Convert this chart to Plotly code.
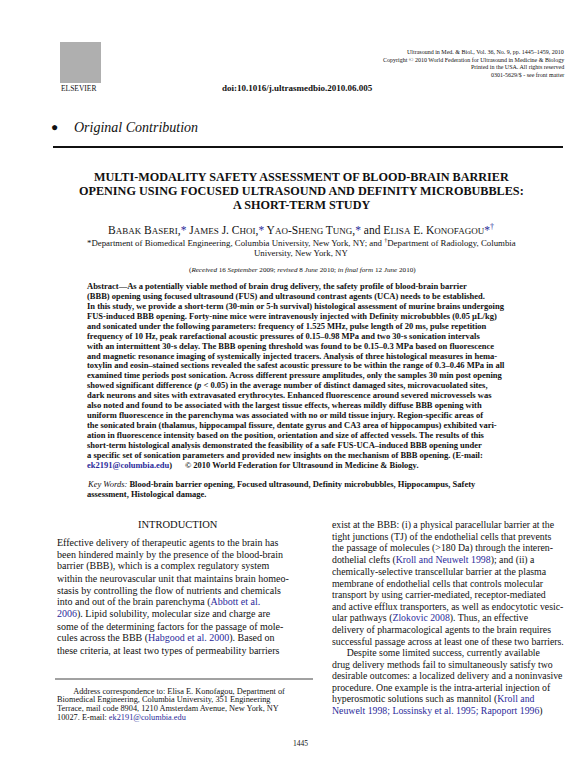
import plotly.graph_objects as go

W, H = 585, 783
SERIF = "Liberation Serif"
LINK = "#2b2b9a"

def link(t):
    return f"<span style='color:{LINK}'>{t}</span>"

def sc(t):
    return f"<span style='font-size:9px'>{t}</span>"

header_lines = [
    "Ultrasound in Med. & Biol., Vol. 36, No. 9, pp. 1445–1459, 2010",
    "Copyright © 2010 World Federation for Ultrasound in Medicine & Biology",
    "Printed in the USA. All rights reserved",
    "0301-5629/$ - see front matter",
]
doi_text = "doi:10.1016/j.ultrasmedbio.2010.06.005"
section_text = "Original Contribution"
title_lines = [
    "MULTI-MODALITY SAFETY ASSESSMENT OF BLOOD-BRAIN BARRIER",
    "OPENING USING FOCUSED ULTRASOUND AND DEFINITY MICROBUBBLES:",
    "A SHORT-TERM STUDY",
]
authors_text = ("B" + sc("ABAK") + " B" + sc("ASERI") + "," + link("*")
                + " J" + sc("AMES") + " J. C" + sc("HOI") + "," + link("*")
                + " Y" + sc("AO") + "-S" + sc("HENG") + " T" + sc("UNG") + "," + link("*")
                + " and E" + sc("LISA") + " E. K" + sc("ONOFAGOU") + link("*<sup>†</sup>"))
affil_lines = [
    "*Department of Biomedical Engineering, Columbia University, New York, NY; and <sup>†</sup>Department of Radiology, Columbia",
    "University, New York, NY",
]
received_text = "(<i>Received</i> 16 <i>September</i> 2009; <i>revised</i> 8 <i>June</i> 2010; <i>in final form</i> 12 <i>June</i> 2010)"
abstract_lines = [
    "Abstract—As a potentially viable method of brain drug delivery, the safety profile of blood-brain barrier",
    "(BBB) opening using focused ultrasound (FUS) and ultrasound contrast agents (UCA) needs to be established.",
    "In this study, we provide a short-term (30-min or 5-h survival) histological assessment of murine brains undergoing",
    "FUS-induced BBB opening. Forty-nine mice were intravenously injected with Definity microbubbles (0.05 µL/kg)",
    "and sonicated under the following parameters: frequency of 1.525 MHz, pulse length of 20 ms, pulse repetition",
    "frequency of 10 Hz, peak rarefactional acoustic pressures of 0.15–0.98 MPa and two 30-s sonication intervals",
    "with an intermittent 30-s delay. The BBB opening threshold was found to be 0.15–0.3 MPa based on fluorescence",
    "and magnetic resonance imaging of systemically injected tracers. Analysis of three histological measures in hema-",
    "toxylin and eosin–stained sections revealed the safest acoustic pressure to be within the range of 0.3–0.46 MPa in all",
    "examined time periods post sonication. Across different pressure amplitudes, only the samples 30 min post opening",
    "showed significant difference (<i>p</i> < 0.05) in the average number of distinct damaged sites, microvacuolated sites,",
    "dark neurons and sites with extravasated erythrocytes. Enhanced fluorescence around severed microvessels was",
    "also noted and found to be associated with the largest tissue effects, whereas mildly diffuse BBB opening with",
    "uniform fluorescence in the parenchyma was associated with no or mild tissue injury. Region-specific areas of",
    "the sonicated brain (thalamus, hippocampal fissure, dentate gyrus and CA3 area of hippocampus) exhibited vari-",
    "ation in fluorescence intensity based on the position, orientation and size of affected vessels. The results of this",
    "short-term histological analysis demonstrated the feasibility of a safe FUS-UCA–induced BBB opening under",
    "a specific set of sonication parameters and provided new insights on the mechanism of BBB opening. (E-mail:",
    link("ek2191@columbia.edu") + ")      © 2010 World Federation for Ultrasound in Medicine & Biology.",
]
keyword_lines = [
    "<i>Key Words:</i> <b>Blood-brain barrier opening, Focused ultrasound, Definity microbubbles, Hippocampus, Safety</b>",
    "<b>assessment, Histological damage.</b>",
]
intro_heading = "INTRODUCTION"
left_lines = [
    "Effective delivery of therapeutic agents to the brain has",
    "been hindered mainly by the presence of the blood-brain",
    "barrier (BBB), which is a complex regulatory system",
    "within the neurovascular unit that maintains brain homeo-",
    "stasis by controlling the flow of nutrients and chemicals",
    "into and out of the brain parenchyma (" + link("Abbott et al."),
    link("2006") + "). Lipid solubility, molecular size and charge are",
    "some of the determining factors for the passage of mole-",
    "cules across the BBB (" + link("Habgood et al. 2000") + "). Based on",
    "these criteria, at least two types of permeability barriers",
]
right_lines = [
    "exist at the BBB: (i) a physical paracellular barrier at the",
    "tight junctions (TJ) of the endothelial cells that prevents",
    "the passage of molecules (>180 Da) through the interen-",
    "dothelial clefts (" + link("Kroll and Neuwelt 1998") + "); and (ii) a",
    "chemically-selective transcellular barrier at the plasma",
    "membrane of endothelial cells that controls molecular",
    "transport by using carrier-mediated, receptor-mediated",
    "and active efflux transporters, as well as endocytotic vesic-",
    "ular pathways (" + link("Zlokovic 2008") + "). Thus, an effective",
    "delivery of pharmacological agents to the brain requires",
    "successful passage across at least one of these two barriers.",
    "      Despite some limited success, currently available",
    "drug delivery methods fail to simultaneously satisfy two",
    "desirable outcomes: a localized delivery and a noninvasive",
    "procedure. One example is the intra-arterial injection of",
    "hyperosmotic solutions such as mannitol (" + link("Kroll and"),
    link("Neuwelt 1998; Lossinsky et al. 1995; Rapoport 1996") + ")",
]
footnote_lines = [
    "        Address correspondence to: Elisa E. Konofagou, Department of",
    "Biomedical Engineering, Columbia University, 351 Engineering",
    "Terrace, mail code 8904, 1210 Amsterdam Avenue, New York, NY",
    "10027. E-mail: " + link("ek2191@columbia.edu"),
]
page_number = "1445"

fig = go.Figure()
ann = []

def add(text, x, y, size, anchor="left", bold=False, color="#111"):
    if bold:
        text = "<b>" + text + "</b>"
    ann.append(dict(text=text, x=x, y=y, xref="x", yref="y", xanchor=anchor,
                    yanchor="middle", showarrow=False,
                    font=dict(family=SERIF, size=size, color=color)))

for i, t in enumerate(header_lines):
    add(t, 558, 44 + 7.7 * i, 6, "right")
add("ELSEVIER", 51, 80, 7.5, "left")
add(doi_text, 289, 80, 9, "center", bold=True)
add("●", 41, 119, 12, "left")
add("<i>" + section_text + "</i>", 64, 119, 14, "left")
for i, t in enumerate(title_lines):
    add(t, 293, 169 + 14 * i, 12.2, "center", bold=True)
add(authors_text, 293, 221, 11.5, "center")
for i, t in enumerate(affil_lines):
    add(t, 293, 234 + 10.5 * i, 8.8, "center")
add(received_text, 294, 262, 7.1, "center")
for i, t in enumerate(abstract_lines):
    add(t, 77, 278 + 9.93 * i, 8.5, "left", bold=True)
for i, t in enumerate(keyword_lines):
    add(t, 77, 476 + 10 * i, 8.5, "left")
add(intro_heading, 170, 516, 10.5, "center")
for i, t in enumerate(left_lines):
    add(t, 47, 534 + 12 * i, 10.0, "left")
for i, t in enumerate(right_lines):
    add(t, 322, 517 + 11.6 * i, 9.8, "left")
for i, t in enumerate(footnote_lines):
    add(t, 47, 683 + 8.8 * i, 8.3, "left")
add(page_number, 292, 735, 7.5, "center")

shapes = [
    dict(type="line", x0=45, x1=555, y0=139, y1=139, xref="x", yref="y", line=dict(color="#111", width=2.2)),
    dict(type="line", x0=47, x1=305, y0=671, y1=671, xref="x", yref="y", line=dict(color="#444", width=1)),
    dict(type="rect", x0=52, x1=93, y0=34, y1=75, xref="x", yref="y", line=dict(width=0), fillcolor="#7a7a7a", opacity=0.6),
]

fig.update_layout(
    width=W, height=H, margin=dict(l=0, r=0, t=0, b=0),
    paper_bgcolor="white", plot_bgcolor="white",
    xaxis=dict(range=[0, W], visible=False, fixedrange=True),
    yaxis=dict(range=[H, 0], visible=False, fixedrange=True),
    annotations=ann, shapes=shapes, showlegend=False,
)
fig.write_html("out.html")
